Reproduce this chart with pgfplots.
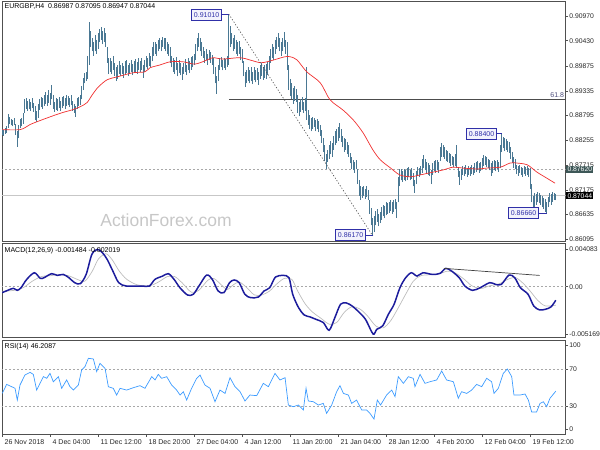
\documentclass[border=0pt]{standalone}
\usepackage{fontspec}
\setmainfont{Liberation Sans}
\usepackage{pgfplots}
\usepackage{pgfplotstable}
\pgfplotsset{compat=1.18}

\definecolor{barc}{HTML}{4A7893}
\definecolor{mared}{HTML}{F03030}
\definecolor{macdc}{HTML}{1C1C9C}
\definecolor{sigc}{HTML}{BDBDBD}
\definecolor{rsic}{HTML}{3C9BFF}
\definecolor{framec}{HTML}{505050}
\definecolor{boxc}{HTML}{3030A8}
\definecolor{boxfill}{HTML}{F2F2FC}
\definecolor{hlbox}{HTML}{3D5757}
\definecolor{lvl}{HTML}{A8A8A8}

\newcommand{\lbfont}{\fontsize{7}{8}\selectfont}
\newcommand{\tkfont}{\fontsize{6.8}{8}\selectfont}

% price bars: low / high of each H4 bar, one row per bar
\pgfplotstableread[row sep=\\]{
lo hi\\
0.8838 0.8850\\ 0.8836 0.8848\\ 0.8840 0.8852\\ 0.8842 0.8856\\ 0.8852 0.8884\\ 0.8862 0.8877\\ 0.8858 0.8872\\ 0.8856 0.8870\\ 0.8860 0.8874\\ 0.8838 0.8862\\
0.8812 0.8845\\ 0.8830 0.8858\\ 0.8852 0.8872\\ 0.8856 0.8875\\ 0.8862 0.8885\\ 0.8885 0.8915\\ 0.8895 0.8918\\ 0.8890 0.8912\\ 0.8893 0.8916\\ 0.8890 0.8910\\
0.8896 0.8918\\ 0.8888 0.8908\\ 0.8870 0.8900\\ 0.8866 0.8890\\ 0.8875 0.8905\\ 0.8892 0.8915\\ 0.8898 0.8920\\ 0.8895 0.8918\\ 0.8900 0.8925\\ 0.8905 0.8930\\
0.8900 0.8925\\ 0.8908 0.8935\\ 0.8903 0.8928\\ 0.8915 0.8947\\ 0.8895 0.8925\\ 0.8888 0.8910\\ 0.8892 0.8918\\ 0.8890 0.8915\\ 0.8896 0.8920\\ 0.8890 0.8912\\
0.8897 0.8920\\ 0.8900 0.8922\\ 0.8895 0.8918\\ 0.8900 0.8925\\ 0.8903 0.8922\\ 0.8898 0.8918\\ 0.8902 0.8924\\ 0.8890 0.8912\\ 0.8885 0.8905\\ 0.8877 0.8900\\
0.8895 0.8918\\ 0.8900 0.8920\\ 0.8902 0.8925\\ 0.8915 0.8945\\ 0.8935 0.8962\\ 0.8950 0.8972\\ 0.8955 0.8975\\ 0.8960 0.9010\\ 0.8990 0.9084\\ 0.9030 0.9065\\
0.9020 0.9050\\ 0.9010 0.9040\\ 0.9020 0.9055\\ 0.9015 0.9045\\ 0.9025 0.9060\\ 0.9040 0.9068\\ 0.9045 0.9072\\ 0.9035 0.9065\\ 0.9040 0.9070\\ 0.9030 0.9060\\
0.8995 0.9030\\ 0.8970 0.9005\\ 0.8975 0.9005\\ 0.8970 0.8998\\ 0.8980 0.9010\\ 0.8965 0.8995\\ 0.8955 0.8985\\ 0.8960 0.8990\\ 0.8970 0.8998\\ 0.8965 0.8990\\
0.8970 0.8995\\ 0.8962 0.8988\\ 0.8968 0.8998\\ 0.8972 0.9000\\ 0.8965 0.8990\\ 0.8970 0.8995\\ 0.8975 0.9000\\ 0.8968 0.8992\\ 0.8972 0.8998\\ 0.8975 0.9004\\
0.8970 0.8996\\ 0.8978 0.9006\\ 0.8974 0.8998\\ 0.8980 0.9005\\ 0.8962 0.8990\\ 0.8975 0.9000\\ 0.8985 0.9010\\ 0.8982 0.9005\\ 0.8988 0.9016\\ 0.8985 0.9010\\
0.8998 0.9030\\ 0.9010 0.9040\\ 0.9015 0.9040\\ 0.9010 0.9035\\ 0.9020 0.9045\\ 0.9025 0.9050\\ 0.9020 0.9045\\ 0.9030 0.9052\\ 0.9025 0.9048\\ 0.9020 0.9050\\
0.9015 0.9040\\ 0.9010 0.9035\\ 0.8995 0.9030\\ 0.8985 0.9010\\ 0.8975 0.9005\\ 0.8970 0.9000\\ 0.8980 0.9008\\ 0.8965 0.8995\\ 0.8972 0.9000\\ 0.8968 0.8995\\
0.8958 0.8985\\ 0.8970 0.8995\\ 0.8975 0.9002\\ 0.8968 0.8990\\ 0.8978 0.9005\\ 0.8972 0.8998\\ 0.8980 0.9008\\ 0.8985 0.9010\\ 0.8990 0.9015\\ 0.9000 0.9035\\
0.9020 0.9050\\ 0.9030 0.9060\\ 0.9020 0.9048\\ 0.9010 0.9040\\ 0.9005 0.9030\\ 0.8995 0.9020\\ 0.9000 0.9025\\ 0.8990 0.9015\\ 0.9000 0.9022\\ 0.8995 0.9018\\
0.8990 0.9012\\ 0.8970 0.9005\\ 0.8950 0.8985\\ 0.8927 0.8965\\ 0.8955 0.8990\\ 0.8980 0.9005\\ 0.8985 0.9008\\ 0.8978 0.9000\\ 0.8984 0.9006\\ 0.8980 0.9003\\
0.8986 0.9010\\ 0.8990 0.9101\\ 0.9030 0.9075\\ 0.9035 0.9060\\ 0.9020 0.9050\\ 0.9025 0.9055\\ 0.9015 0.9045\\ 0.9010 0.9040\\ 0.9015 0.9042\\ 0.9000 0.9030\\
0.8995 0.9025\\ 0.8965 0.8998\\ 0.8943 0.8975\\ 0.8950 0.8980\\ 0.8955 0.8985\\ 0.8950 0.8978\\ 0.8955 0.8985\\ 0.8948 0.8975\\ 0.8958 0.8986\\ 0.8952 0.8980\\
0.8958 0.8984\\ 0.8947 0.8975\\ 0.8960 0.8990\\ 0.8965 0.8995\\ 0.8958 0.8985\\ 0.8962 0.8990\\ 0.8960 0.8992\\ 0.8968 0.8996\\ 0.8980 0.9010\\ 0.8995 0.9025\\
0.9005 0.9035\\ 0.9000 0.9030\\ 0.9015 0.9045\\ 0.9025 0.9052\\ 0.9030 0.9060\\ 0.9020 0.9048\\ 0.9010 0.9040\\ 0.9020 0.9050\\ 0.9030 0.9062\\ 0.9015 0.9045\\
0.8980 0.9040\\ 0.8935 0.8990\\ 0.8922 0.8960\\ 0.8915 0.8950\\ 0.8905 0.8940\\ 0.8912 0.8945\\ 0.8910 0.8938\\ 0.8885 0.8925\\ 0.8878 0.8910\\ 0.8888 0.8915\\
0.8892 0.8920\\ 0.8885 0.8910\\ 0.8890 0.8918\\ 0.8870 0.8986\\ 0.8860 0.8892\\ 0.8850 0.8880\\ 0.8845 0.8875\\ 0.8850 0.8877\\ 0.8855 0.8875\\ 0.8845 0.8870\\
0.8850 0.8872\\ 0.8843 0.8868\\ 0.8835 0.8858\\ 0.8820 0.8848\\ 0.8800 0.8830\\ 0.8780 0.8815\\ 0.8762 0.8795\\ 0.8778 0.8805\\ 0.8785 0.8815\\ 0.8795 0.8825\\
0.8790 0.8820\\ 0.8805 0.8835\\ 0.8815 0.8845\\ 0.8820 0.8850\\ 0.8825 0.8855\\ 0.8830 0.8863\\ 0.8822 0.8850\\ 0.8810 0.8835\\ 0.8800 0.8830\\ 0.8805 0.8828\\
0.8795 0.8822\\ 0.8790 0.8815\\ 0.8775 0.8798\\ 0.8762 0.8790\\ 0.8760 0.8783\\ 0.8755 0.8778\\ 0.8762 0.8782\\ 0.8730 0.8762\\ 0.8705 0.8740\\ 0.8696 0.8725\\
0.8700 0.8724\\ 0.8705 0.8726\\ 0.8698 0.8720\\ 0.8702 0.8725\\ 0.8696 0.8718\\ 0.8665 0.8695\\ 0.8640 0.8678\\ 0.8617 0.8655\\ 0.8625 0.8660\\ 0.8640 0.8672\\
0.8648 0.8675\\ 0.8638 0.8665\\ 0.8645 0.8670\\ 0.8652 0.8680\\ 0.8660 0.8685\\ 0.8655 0.8682\\ 0.8662 0.8690\\ 0.8665 0.8688\\ 0.8668 0.8692\\ 0.8672 0.8696\\
0.8665 0.8690\\ 0.8670 0.8695\\ 0.8675 0.8698\\ 0.8657 0.8690\\ 0.8690 0.8745\\ 0.8725 0.8762\\ 0.8738 0.8762\\ 0.8735 0.8758\\ 0.8740 0.8762\\ 0.8736 0.8760\\
0.8740 0.8765\\ 0.8745 0.8768\\ 0.8738 0.8760\\ 0.8742 0.8766\\ 0.8725 0.8755\\ 0.8711 0.8740\\ 0.8730 0.8758\\ 0.8748 0.8768\\ 0.8745 0.8765\\ 0.8750 0.8770\\
0.8755 0.8785\\ 0.8765 0.8794\\ 0.8760 0.8785\\ 0.8755 0.8778\\ 0.8750 0.8775\\ 0.8748 0.8772\\ 0.8730 0.8760\\ 0.8750 0.8775\\ 0.8758 0.8780\\ 0.8755 0.8783\\
0.8760 0.8782\\ 0.8755 0.8778\\ 0.8780 0.8810\\ 0.8790 0.8820\\ 0.8790 0.8815\\ 0.8785 0.8810\\ 0.8780 0.8805\\ 0.8778 0.8802\\ 0.8775 0.8798\\ 0.8770 0.8795\\
0.8772 0.8792\\ 0.8768 0.8790\\ 0.8770 0.8795\\ 0.8765 0.8816\\ 0.8745 0.8768\\ 0.8729 0.8758\\ 0.8740 0.8762\\ 0.8750 0.8770\\ 0.8748 0.8768\\ 0.8752 0.8772\\
0.8746 0.8766\\ 0.8750 0.8770\\ 0.8748 0.8768\\ 0.8752 0.8772\\ 0.8750 0.8768\\ 0.8755 0.8775\\ 0.8756 0.8778\\ 0.8760 0.8780\\ 0.8755 0.8775\\ 0.8758 0.8779\\
0.8765 0.8788\\ 0.8770 0.8794\\ 0.8772 0.8792\\ 0.8768 0.8790\\ 0.8765 0.8785\\ 0.8760 0.8782\\ 0.8748 0.8775\\ 0.8755 0.8780\\ 0.8760 0.8783\\ 0.8758 0.8780\\
0.8762 0.8782\\ 0.8757 0.8778\\ 0.8765 0.8815\\ 0.8800 0.8840\\ 0.8808 0.8833\\ 0.8802 0.8830\\ 0.8805 0.8828\\ 0.8800 0.8825\\ 0.8798 0.8822\\ 0.8785 0.8811\\
0.8775 0.8800\\ 0.8765 0.8790\\ 0.8762 0.8785\\ 0.8752 0.8772\\ 0.8748 0.8770\\ 0.8755 0.8772\\ 0.8750 0.8768\\ 0.8746 0.8766\\ 0.8752 0.8770\\ 0.8748 0.8768\\
0.8750 0.8770\\ 0.8745 0.8765\\ 0.8720 0.8765\\ 0.8690 0.8730\\ 0.8672 0.8705\\ 0.8680 0.8711\\ 0.8685 0.8708\\ 0.8690 0.8713\\ 0.8688 0.8710\\ 0.8685 0.8707\\
0.8680 0.8705\\ 0.8675 0.8700\\ 0.8670 0.8698\\ 0.8666 0.8692\\ 0.8680 0.8702\\ 0.8690 0.8710\\ 0.8685 0.8708\\ 0.8692 0.8712\\ 0.8695 0.8710\\ 0.86947 0.87095\\
}\bars

\pgfplotsset{
  mtpanel/.style={
    scale only axis, width=563.7pt,
    xmin=-0.2, xmax=375.6,
    axis line style={draw=framec, line width=0.8pt},
    tick style={draw=framec, line width=0.6pt},
    ytick pos=right, yticklabel pos=right,
    tick align=outside, major tick length=2.5pt,
    xtick=\empty,
    scaled y ticks=false,
    ticklabel style={font=\tkfont, text=black!85},
    yticklabel style={inner xsep=1pt},
    clip mode=individual,
  },
}
\tikzset{
  lbl/.style={draw=boxc, fill=boxfill, text=boxc, font=\lbfont,
    inner xsep=2.5pt, inner ysep=2.8pt, line width=0.6pt},
  hl/.style={anchor=west, xshift=0.2pt, text=white, font=\tkfont,
    inner xsep=1.4pt, inner ysep=1.1pt},
}

\begin{document}
\begin{tikzpicture}
\useasboundingbox (0pt,0pt) rectangle (600pt,450pt);

% ---------- price panel ----------
\begin{axis}[mtpanel, at={(2pt,208.3pt)}, anchor=south west, height=240.2pt,
  ymin=0.86043, ymax=0.91286,
  ytick={0.90970,0.90430,0.89875,0.89335,0.88795,0.88255,0.87715,0.87175,0.86635,0.86095},
  yticklabels={0.90970,0.90430,0.89875,0.89335,0.88795,0.88255,0.87715,0.87175,0.86635,0.86095},
]
\addplot[draw=lvl, dash pattern=on 2pt off 2pt, line width=0.6pt] coordinates {(-1,0.8762) (380,0.8762)};
\addplot[draw=black!22, line width=0.8pt] coordinates {(-1,0.87044) (380,0.87044)};
\addplot[draw=black!70, line width=0.7pt] coordinates {(151,0.89161) (380,0.89161)};
\addplot[draw=none, mark=none, error bars/.cd, y dir=plus, y explicit,
  error mark=none, error bar style={barc, line width=1pt}]
  table[x expr=\coordindex, y=lo, y error expr=\thisrow{hi}-\thisrow{lo}] {\bars};
\addplot[mared, line width=0.7pt, smooth] coordinates {
(0,0.8849) (12,0.8849) (18.5,0.8860) (23,0.8866) (32,0.8877) (40,0.8886) (46.5,0.8892)
(52,0.8899) (56.5,0.8908) (60,0.8925) (64,0.8942) (70,0.8958) (76.5,0.8964) (87,0.8973)
(95,0.8975) (98.5,0.8984) (105,0.8990) (112,0.8997) (120.5,0.8997) (128.5,0.8992)
(136.5,0.9001) (140.5,0.9006) (147,0.9003) (158.5,0.9006) (165,0.9001) (172,0.8995)
(176.5,0.8997) (183,0.9003) (188.5,0.9008) (192,0.9008) (196.5,0.9001) (203,0.8975)
(212,0.8951) (218.5,0.8914) (227,0.8892) (234,0.8870) (240.5,0.8842) (247,0.8805)
(252,0.8783) (258.5,0.8766) (265,0.8750) (272,0.8746) (278.5,0.8750) (285.5,0.8755)
(294,0.8761) (300.5,0.8767) (307,0.8765) (316.5,0.8763) (323,0.8765) (332,0.8767)
(338.5,0.8776) (343,0.8776) (350,0.8772) (356.5,0.8756) (363,0.8743) (368.5,0.8732)};
\addplot[draw=black!70, dash pattern=on 1.2pt off 1.8pt, line width=0.6pt] coordinates {(151,0.9101) (247,0.8617)};

\node[lbl, anchor=east] (a) at (axis cs:146.5,0.9100) {0.91010};
\draw[boxc, line width=0.6pt] (a.east) -- (axis cs:151,0.9100);
\node[lbl, anchor=east] (b) at (axis cs:242.5,0.8619) {0.86170};
\draw[boxc, line width=0.6pt] (b.east) -- (axis cs:247,0.8619);
\node[lbl, anchor=east] (c) at (axis cs:329.8,0.8840) {0.88400};
\draw[boxc, line width=0.6pt] (c.east) -- (axis cs:333,0.8840);
\node[lbl, anchor=east] (d) at (axis cs:357.8,0.8667) {0.86660};
\draw[boxc, line width=0.6pt] (d.east) -- (axis cs:363,0.8667);

\node[anchor=south east, inner sep=1pt, font=\lbfont, text=black!55!blue!40!gray] at (axis cs:375.3,0.89161) {61.8};
\node[hl, fill=hlbox] at (axis cs:375.6,0.8762) {0.87620};
\node[hl, fill=black] at (axis cs:375.6,0.87044) {0.87044};
\end{axis}

\node[font=\fontsize{17.5}{20}\selectfont, text=black!22] at (166pt,230pt) {ActionForex.com};
\node[anchor=west, inner sep=0, font=\lbfont] at (4.5pt,443pt) {EURGBP,H4\ \ 0.86987 0.87095 0.86947 0.87044};

% ---------- MACD panel ----------
\begin{axis}[mtpanel, at={(2pt,112.3pt)}, anchor=south west, height=94.2pt,
  ymin=-0.005573, ymax=0.004716,
  ytick={-0.005169,0,0.004083},
  yticklabels={-0.005169,0.00,0.004083},
]
\addplot[draw=lvl, dash pattern=on 2pt off 2pt, line width=0.6pt] coordinates {(-1,0) (380,0)};
\addplot[sigc, line width=0.7pt, smooth] coordinates {
(0,-0.0005) (8,-0.0004) (14,-0.0001) (20,0.0006) (26,0.0011) (32,0.0012) (38,0.0013)
(44,0.0012) (50,0.0008) (55,0.0006) (60,0.0017) (64,0.0030) (69,0.0036) (73,0.0030)
(78,0.0017) (83,0.0008) (90,0.0002) (98,0.0001) (104,0.0005) (110,0.0011) (115,0.0011)
(120,0.0004) (126,-0.0006) (131,-0.0004) (137,0.0007) (141,0.0009) (146,0.0002)
(150,-0.0003) (154,0.0002) (158,0.0005) (163,-0.0001) (168,-0.0009) (173,-0.0009)
(178,-0.0005) (183,0.0003) (188,0.0009) (193,0.0008) (197,-0.0005) (202,-0.0019)
(207,-0.0028) (212,-0.0034) (218,-0.0041) (223,-0.0039) (228,-0.0028) (233,-0.0022)
(238,-0.0024) (243,-0.0031) (249,-0.0043) (254,-0.0045) (259,-0.0037) (264,-0.0023)
(269,-0.0008) (274,0.0006) (279,0.0012) (285,0.0013) (291,0.0014) (297,0.0017)
(302,0.0015) (308,0.0008) (313,0.0001) (319,-0.0002) (325,0.0001) (331,0.0003)
(337,0.0008) (342,0.0010) (347,0.0004) (352,-0.0005) (357,-0.0015) (362,-0.0021) (369,-0.00202)};
\addplot[macdc, line width=1.5pt, smooth] coordinates {
(0,-0.00065) (3.6,-0.00040) (7.4,-0.00018) (10,-0.00040) (12.5,-0.00011) (16.3,0.00080)
(21.4,0.00152) (25.3,0.00091) (27.8,0.00098) (32.9,0.00142) (36.7,0.00123) (40.6,0.00134)
(44.4,0.00098) (48.2,0.00044) (52,0.00033) (55.9,0.00134) (59.7,0.00352) (63.5,0.00408)
(66.8,0.00370) (69.9,0.00298) (73.7,0.00171) (77.6,0.00044) (82.7,0.00007) (92.9,0.00007)
(98,0.00007) (101.8,0.00080) (106.9,0.00116) (110.7,0.00142) (114.5,0.00080)
(118.4,-0.00011) (123.5,-0.00091) (127.3,-0.00083) (131.1,0.00007) (136.2,0.00127)
(140,0.00080) (143.9,-0.00047) (147.7,-0.00065) (151.5,0.00044) (154.6,0.00073)
(157.9,0.00044) (161.7,-0.00083) (165.6,-0.00120) (170.7,-0.00113) (174.5,-0.00047)
(178.3,-0.00011) (182.1,0.00105) (187.2,0.00123) (191.1,0.00098) (193.6,-0.00083)
(197.5,-0.00229) (201.3,-0.00309) (205.1,-0.00330) (209,-0.00356) (214,-0.00392)
(217.9,-0.00476) (221.7,-0.00338) (225.5,-0.00192) (229.4,-0.00178) (233.2,-0.00211)
(237,-0.00265) (242.1,-0.00356) (247.2,-0.00517) (249.7,-0.00465) (253.6,-0.00428)
(257.4,-0.00301) (261.2,-0.00192) (265.1,-0.00011) (268.9,0.00098) (272.7,0.00152)
(276.5,0.00116) (280.4,0.00152) (286.7,0.00134) (291.8,0.00145) (295.6,0.00200)
(299.5,0.00171) (304.6,0.00098) (308.4,0.00007) (313.5,-0.00040) (318.6,-0.00011)
(325,0.00044) (328.8,0.00025) (332.7,0.00025) (337.8,0.00127) (341.6,0.00098)
(345.4,-0.00011) (350.5,-0.00083) (354.3,-0.00211) (358.2,-0.00254) (362,-0.00247)
(365.8,-0.00221) (369,-0.00148)};
\addplot[black!75, line width=0.7pt] coordinates {(294.4,0.00200) (358.2,0.00123)};
\end{axis}
\node[anchor=west, inner sep=0, font=\lbfont] at (4.5pt,199pt) {MACD(12,26,9) -0.001484 -0.002019};

% ---------- RSI panel ----------
\begin{axis}[mtpanel, at={(2pt,15.7pt)}, anchor=south west, height=93.6pt,
  ymin=-0.8, ymax=101.2,
  ytick={4.6,30,70,96.5}, yticklabels={0,30,70,100},
  xtick={0,32,64,96,128,160,192,224,256,288,320,352},
  xticklabels={26 Nov 2018,4 Dec 04:00,11 Dec 12:00,18 Dec 20:00,27 Dec 04:00,4 Jan 12:00,11 Jan 20:00,21 Jan 04:00,28 Jan 12:00,4 Feb 20:00,12 Feb 04:00,19 Feb 12:00},
  xtick pos=lower,
  xticklabel style={font=\lbfont, anchor=north west, xshift=-1.2pt, yshift=0.8pt},
]
\addplot[draw=lvl, dash pattern=on 2pt off 2pt, line width=0.6pt] coordinates {(-1,70) (380,70)};
\addplot[draw=lvl, dash pattern=on 2pt off 2pt, line width=0.6pt] coordinates {(-1,30) (380,30)};
\addplot[rsic, line width=0.7pt] coordinates {
(0,43.8) (2.9,53.6) (6.2,51.1) (8.5,49.3) (10,36.5) (11.8,52.9) (15.1,63.8) (18.5,66.7)
(20.7,64.5) (22.9,47.4) (25.1,54.7) (27.4,62.0) (29.6,60.2) (31.8,65.6) (34,56.5)
(37.4,62.0) (39.6,49.3) (42.9,58.4) (45.1,51.1) (47.4,47.4) (50.7,52.9) (52.9,69.3)
(55.1,72.9) (57.4,82.0) (60.7,81.3) (62.9,67.5) (65.1,76.5) (68.5,71.1) (70.7,51.1)
(74,49.3) (76.2,42.0) (78.5,49.3) (82.9,47.4) (87.4,50.0) (91.8,52.2) (95.1,49.3)
(99.6,62.0) (101.8,58.4) (104,64.5) (106.2,60.2) (109.6,62.0) (112.9,52.9) (116.2,47.4)
(118.5,42.0) (120.7,45.6) (122.9,36.5) (126.2,49.3) (129.6,60.2) (131.8,63.8) (135.1,52.9)
(138.5,49.3) (141.8,34.7) (145.1,47.4) (148.5,43.8) (151.8,60.9) (155.1,51.1) (158.5,45.6)
(161.8,35.5) (165.1,42.0) (169.6,41.3) (174,54.7) (177.4,51.1) (181.8,65.6) (185.1,58.4)
(188.5,60.9) (190.7,31.1) (194,29.3) (197.4,31.1) (200.7,25.6) (202.5,49.3) (204,35.5)
(207.4,34.7) (210.7,31.1) (214,32.9) (216.2,22.0) (219.6,31.1) (222.9,45.6) (225.1,52.2)
(227.4,43.8) (230.7,42.0) (232.9,32.9) (236.2,36.5) (239.6,25.6) (242.9,25.6) (245.1,22.0)
(247.8,15.8) (250,36.5) (252.2,31.1) (256.2,42.0) (259.6,47.4) (261.8,40.2) (264,62.0)
(267.4,54.7) (270.7,62.0) (274,60.2) (275.1,51.1) (278.5,64.5) (281.8,54.7) (285.1,56.5)
(289.6,58.4) (292.9,68.2) (296.2,58.4) (300.7,56.5) (304,38.4) (306.2,45.6) (309.6,43.8)
(312.9,47.4) (316.2,53.6) (319.6,51.1) (322.9,60.2) (326.2,56.5) (327.8,43.8) (330.7,49.3)
(334,65.6) (336.7,70.4) (339.6,62.0) (341.1,42.0) (345.1,42.0) (348.5,43.1) (350.7,36.5)
(352.9,23.6) (356.2,23.6) (358.5,32.9) (360.7,34.7) (362.9,29.3) (365.1,38.4) (369,46.2)};
\end{axis}
\node[anchor=west, inner sep=0, font=\lbfont] at (4.5pt,103pt) {RSI(14) 46.2087};
\end{tikzpicture}
\end{document}
